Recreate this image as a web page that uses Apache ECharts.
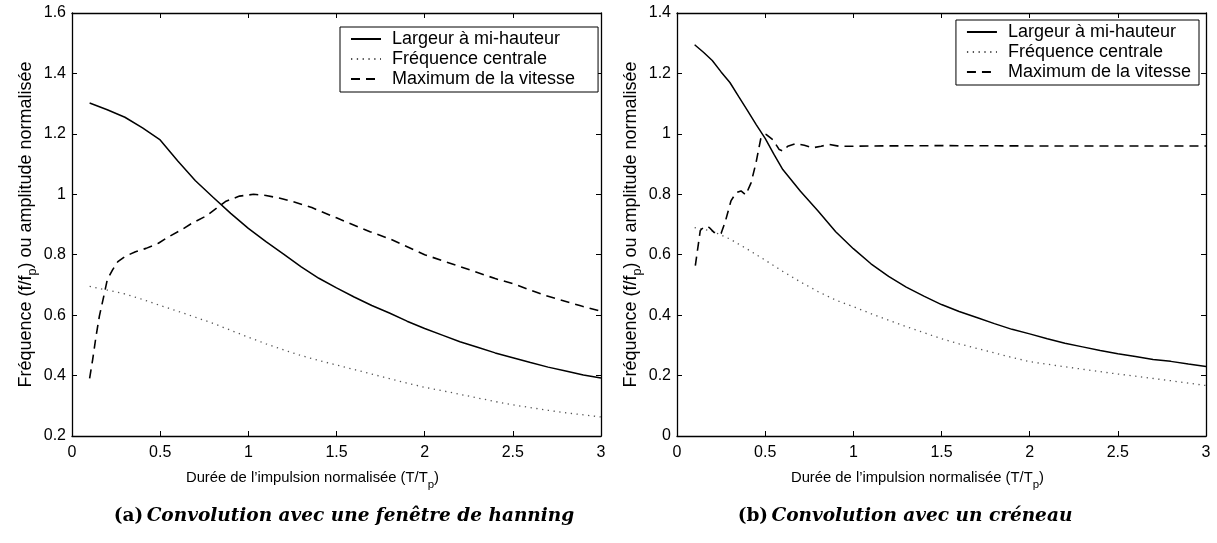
<!DOCTYPE html>
<html>
<head>
<meta charset="utf-8">
<script src="https://cdn.jsdelivr.net/npm/echarts@6/dist/echarts.min.js"></script>
<style>
  html, body { margin: 0; background: #fff; }
  #chart { width: 1217px; height: 543px; }
</style>
</head>
<body>
<div id="chart"></div>
<script>
// (a) hanning window
const hanX = [0.1, 0.2, 0.3, 0.4, 0.5, 0.6, 0.7, 0.8, 0.9, 1.0, 1.1, 1.2, 1.3, 1.4, 1.5,
  1.6, 1.7, 1.8, 1.9, 2.0, 2.1, 2.2, 2.3, 2.4, 2.5, 2.6, 2.7, 2.8, 2.9, 3.0];
const hanLargeur = [1.302, 1.28, 1.255, 1.22, 1.18, 1.11, 1.045, 0.99, 0.937, 0.887, 0.843, 0.802, 0.76, 0.722, 0.69,
  0.66, 0.632, 0.607, 0.58, 0.556, 0.534, 0.512, 0.494, 0.475, 0.459, 0.443, 0.428, 0.415, 0.402, 0.392];
const hanFreq = [0.695, 0.683, 0.67, 0.652, 0.632, 0.613, 0.593, 0.573, 0.55, 0.527, 0.505, 0.485, 0.466, 0.45, 0.435,
  0.42, 0.405, 0.39, 0.375, 0.361, 0.35, 0.338, 0.326, 0.314, 0.303, 0.294, 0.285, 0.277, 0.27, 0.263];
const hanVitX = [0.1, 0.117, 0.136, 0.155, 0.18, 0.2, 0.23, 0.26, 0.3, 0.36, 0.42, 0.49, 0.55, 0.62, 0.68, 0.76, 0.82,
  0.87, 0.95, 1.03, 1.1, 1.18, 1.25, 1.36, 1.5, 1.69, 1.8, 2.0, 2.2, 2.4, 2.5, 2.69, 2.89, 3.0];
const hanVit = [0.391, 0.452, 0.529, 0.596, 0.662, 0.717, 0.75, 0.777, 0.794, 0.81, 0.821, 0.838, 0.86, 0.882, 0.904, 0.928, 0.954,
  0.976, 0.994, 1.0, 0.996, 0.987, 0.976, 0.956, 0.922, 0.876, 0.853, 0.8, 0.761, 0.721, 0.704, 0.664, 0.63, 0.613];

// (b) rectangular window
const crenX = [0.1, 0.15, 0.2, 0.25, 0.3, 0.35, 0.4, 0.45, 0.5, 0.55, 0.6, 0.7, 0.8, 0.9, 1.0, 1.1, 1.2, 1.3, 1.4, 1.5,
  1.6, 1.7, 1.8, 1.9, 2.0, 2.1, 2.2, 2.3, 2.4, 2.5, 2.6, 2.7, 2.8, 2.9, 3.0];
const crenLargeur = [1.295, 1.27, 1.243, 1.205, 1.17, 1.123, 1.077, 1.03, 0.985, 0.932, 0.882, 0.81, 0.745, 0.676, 0.62, 0.57, 0.528, 0.493, 0.463, 0.435,
  0.412, 0.392, 0.372, 0.353, 0.338, 0.322, 0.307, 0.295, 0.283, 0.272, 0.263, 0.253, 0.247, 0.238, 0.23];
const crenFreqX = [0.1, 0.2, 0.3, 0.4, 0.5, 0.6, 0.7, 0.8, 0.9, 1.0, 1.1, 1.2, 1.3, 1.4, 1.5,
  1.6, 1.7, 1.8, 1.9, 2.0, 2.2, 2.4, 2.5, 2.6, 2.8, 3.0];
const crenFreq = [0.69, 0.678, 0.652, 0.618, 0.582, 0.545, 0.51, 0.478, 0.45, 0.428, 0.405, 0.383, 0.362, 0.342, 0.322,
  0.305, 0.29, 0.275, 0.26, 0.246, 0.229, 0.213, 0.205, 0.198, 0.183, 0.167];
const crenVitX = [0.104, 0.132, 0.155, 0.183, 0.21, 0.25, 0.274, 0.306, 0.335, 0.363, 0.39, 0.42, 0.448, 0.476, 0.505,
  0.543, 0.58, 0.603, 0.628, 0.675, 0.722, 0.77, 0.817, 0.864, 0.92, 1.0, 1.11, 1.5, 2.0, 2.5, 3.0];
const crenVit = [0.564, 0.68, 0.693, 0.69, 0.674, 0.67, 0.71, 0.778, 0.805, 0.811, 0.798, 0.838, 0.904, 0.987, 0.998,
  0.981, 0.948, 0.943, 0.959, 0.968, 0.962, 0.954, 0.959, 0.965, 0.959, 0.959, 0.96, 0.961, 0.96, 0.96, 0.96];

const names = ['Largeur à mi-hauteur', 'Fréquence centrale', 'Maximum de la vitesse'];
const xTicks = { min: 0, max: 3, interval: 0.5 };

const zip = (xs, ys) => xs.map((x, i) => [x, ys[i]]);
const font = 'Liberation Sans, Arial, sans-serif';

const solid = { color: '#000', width: 1.5, type: 'solid' };
const dotted = { color: '#555', width: 1.3, type: [1.3, 4.5] };
const dashed = { color: '#000', width: 1.6, type: [9, 6] };

function axisBase(show) {
  return {
    type: 'value',
    axisLine: { show: true, onZero: false, lineStyle: { color: '#000', width: 1.3 } },
    axisTick: { show: true, inside: true, length: 5, lineStyle: { color: '#000', width: 1 } },
    axisLabel: { show: show, color: '#000', fontSize: 16, fontFamily: font },
    splitLine: { show: false }
  };
}

function xAxes(gridIndex) {
  let bottom = Object.assign(axisBase(true), xTicks, {
    gridIndex: gridIndex,
    position: 'bottom',
    name: '{n|Durée de l\u2019impulsion normalisée (T/T}{s|p}{n|)}',
    nameLocation: 'middle',
    nameGap: 24,
    nameTextStyle: {
      padding: [0, 48, 0, 0],
      rich: {
        n: { fontSize: 14.8, fontFamily: font, color: '#000', lineHeight: 18, verticalAlign: 'middle' },
        s: { fontSize: 11.5, fontFamily: font, color: '#000', lineHeight: 12, padding: [13, 0, 0, 0], verticalAlign: 'middle' }
      }
    }
  });
  bottom.axisLabel.margin = 9;
  let top = Object.assign(axisBase(false), xTicks, { gridIndex: gridIndex, position: 'top' });
  return [bottom, top];
}

function yAxes(gridIndex, max) {
  let ticks = { min: 0, max: max, interval: 0.2 };
  if (gridIndex === 0) ticks.min = 0.2;
  let left = Object.assign(axisBase(true), ticks, {
    gridIndex: gridIndex,
    position: 'left',
    name: '{n|Fréquence (f/f}{s|p}{n|) ou amplitude normalisée}',
    nameLocation: 'middle',
    nameGap: 36,
    nameTextStyle: {
      rich: {
        n: { fontSize: 18, fontFamily: font, color: '#000', lineHeight: 20, verticalAlign: 'middle' },
        s: { fontSize: 12.5, fontFamily: font, color: '#000', lineHeight: 12, padding: [14, 0, 0, 0], verticalAlign: 'middle' }
      }
    }
  });
  left.axisLabel.margin = 6;
  let right = Object.assign(axisBase(false), ticks, { gridIndex: gridIndex, position: 'right' });
  return [left, right];
}

function seriesFor(axisIndex, largeur, freq, vit) {
  let common = { type: 'line', xAxisIndex: axisIndex, yAxisIndex: axisIndex, showSymbol: false, symbol: 'none', animation: false, silent: true };
  return [
    Object.assign({ name: names[0], data: largeur, lineStyle: solid, itemStyle: { color: '#000' } }, common),
    Object.assign({ name: names[1], data: freq, lineStyle: dotted, itemStyle: { color: '#555' } }, common),
    Object.assign({ name: names[2], data: vit, lineStyle: dashed, itemStyle: { color: '#000' } }, common)
  ];
}

function legend(pos) {
  return Object.assign({
    orient: 'vertical',
    data: names,
    backgroundColor: '#fff',
    borderColor: '#000',
    borderWidth: 1,
    borderRadius: 0,
    padding: [3, 23, 4, 10],
    itemWidth: 30,
    itemHeight: 14,
    itemGap: 2,
    selectedMode: false,
    itemStyle: { opacity: 0 },
    textStyle: { fontSize: 18, fontFamily: font, color: '#000', padding: [0, 0, 0, 6] }
  }, pos);
}

const captionRich = {
  b: { fontFamily: 'DejaVu Serif', fontWeight: 'bold', fontSize: 18.5, fill: '#000' },
  i: { fontFamily: 'DejaVu Serif', fontWeight: 'bold', fontStyle: 'italic', fontSize: 18.5, fill: '#000' }
};

const chart = echarts.init(document.getElementById('chart'), null, { renderer: 'canvas' });

chart.setOption({
  backgroundColor: '#fff',
  animation: false,
  grid: [
    { left: 72, top: 13, width: 529, height: 423 },
    { left: 677, top: 13, width: 529, height: 423 }
  ],
  xAxis: xAxes(0).concat(xAxes(1)),
  yAxis: yAxes(0, 1.6).concat(yAxes(1, 1.4)),
  legend: [
    legend({ left: 340, top: 27 }),
    legend({ right: 18, top: 20, padding: [3, 8, 4, 10] })
  ],
  series: seriesFor(0, zip(hanX, hanLargeur), zip(hanX, hanFreq), zip(hanVitX, hanVit))
    .concat(seriesFor(2, zip(crenX, crenLargeur), zip(crenFreqX, crenFreq), zip(crenVitX, crenVit))),
  graphic: [
    {
      type: 'text', x: 344, y: 516,
      style: { text: '{b|(a)} {i|Convolution avec une fenêtre de hanning}', rich: captionRich, textAlign: 'center', textVerticalAlign: 'middle' }
    },
    {
      type: 'text', x: 905, y: 516,
      style: { text: '{b|(b)} {i|Convolution avec un créneau}', rich: captionRich, textAlign: 'center', textVerticalAlign: 'middle' }
    }
  ]
});
</script>
</body>
</html>
